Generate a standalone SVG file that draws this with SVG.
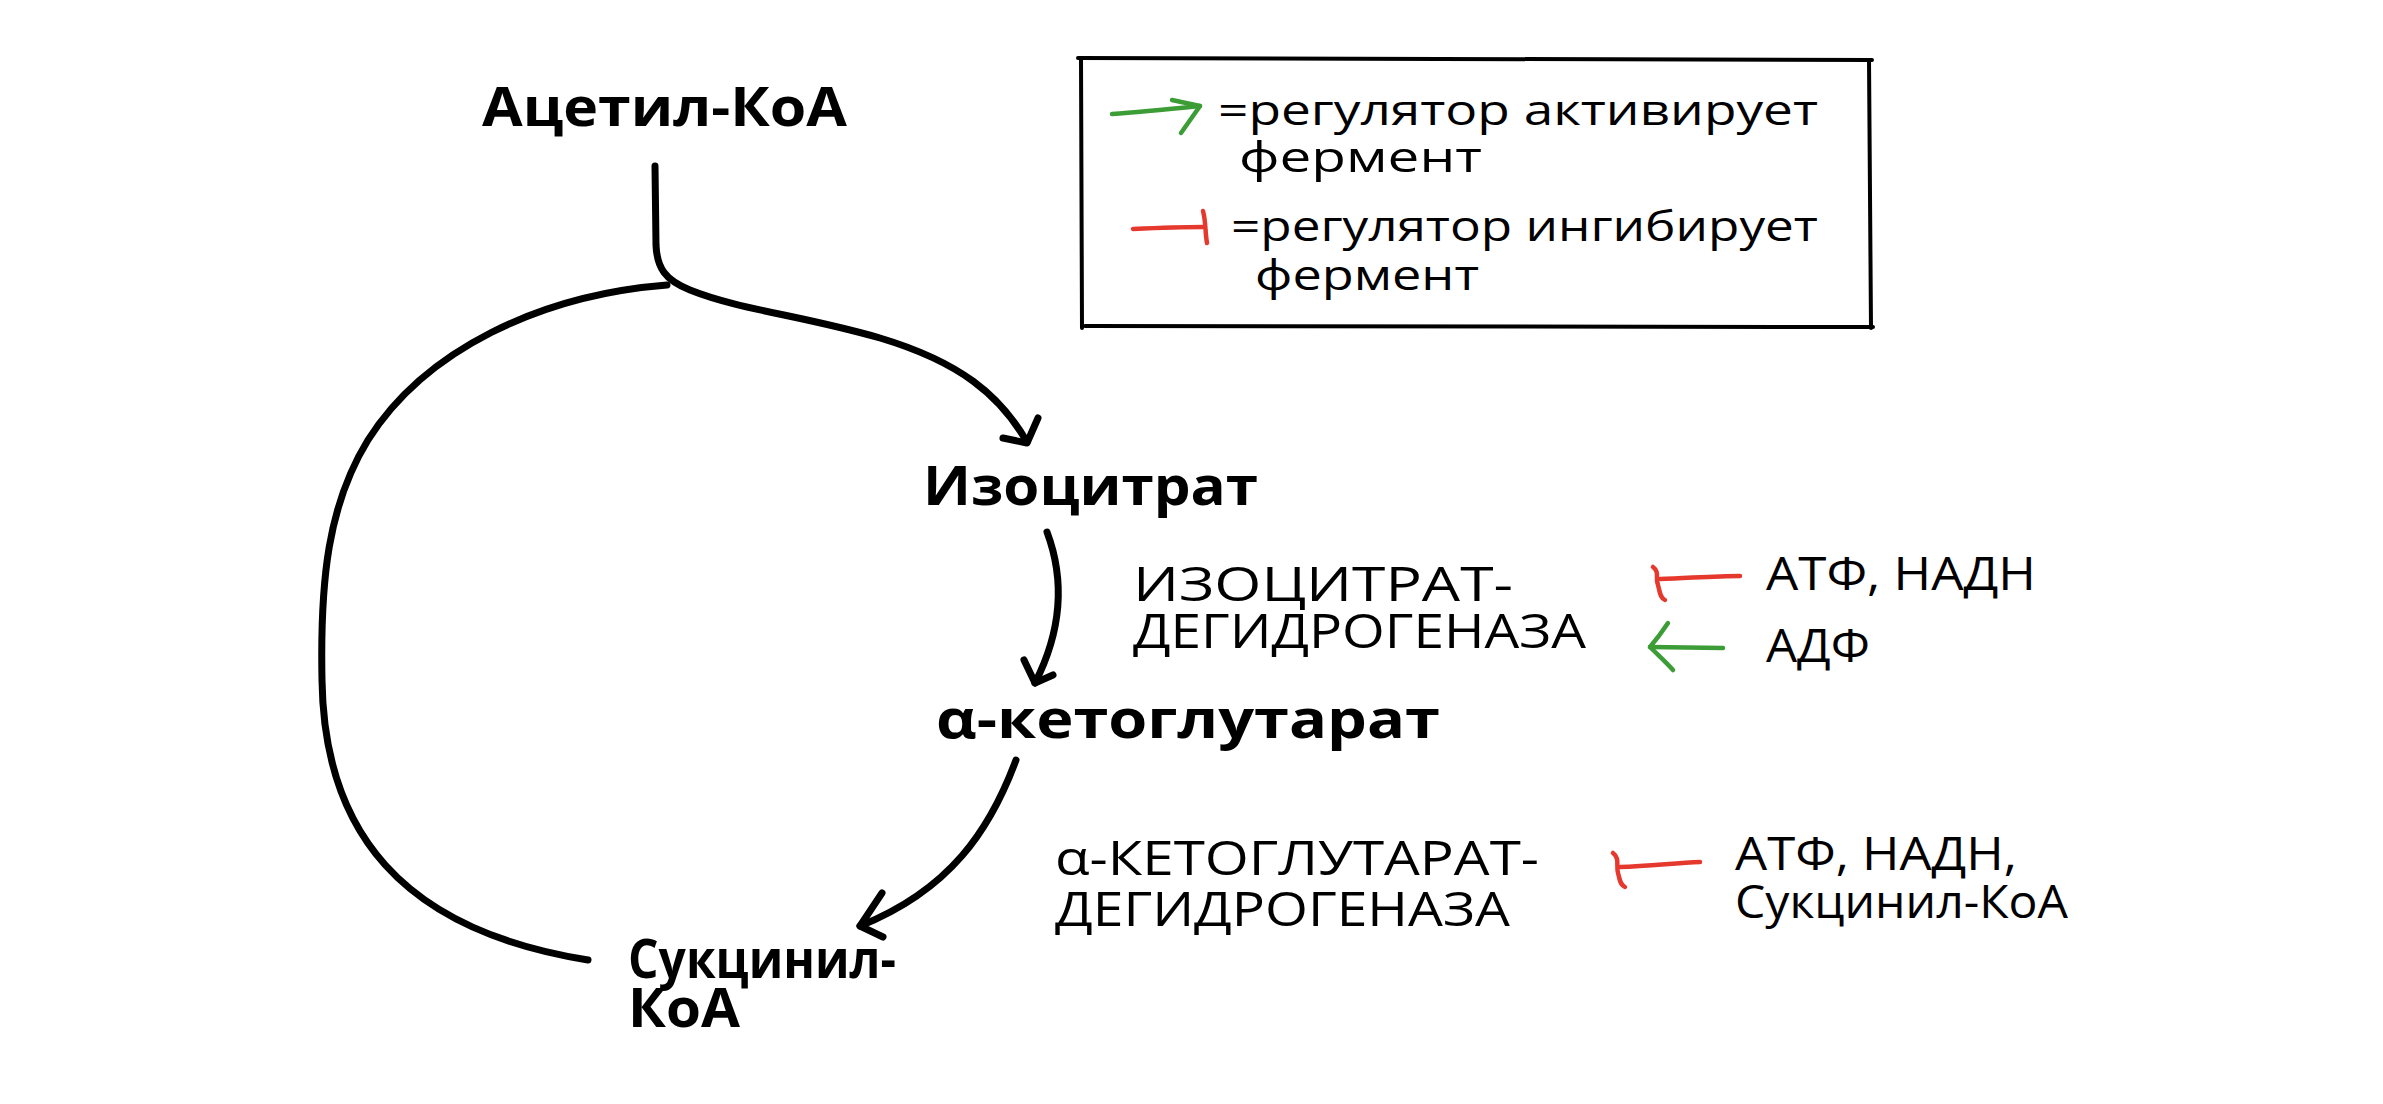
<svg xmlns="http://www.w3.org/2000/svg" width="2383" height="1104" viewBox="0 0 2383 1104">
<style>
  .main { font-family: "Open Sans", "Noto Sans", "DejaVu Sans", sans-serif; font-weight: 700; font-size: 54px; fill: #000; }
  .enz { font-family: "Open Sans", "Noto Sans", "DejaVu Sans", sans-serif; font-weight: 500; font-size: 48px; fill: #000; }
  .reg { font-family: "Open Sans", "Noto Sans", "DejaVu Sans", sans-serif; font-weight: 500; font-size: 45px; fill: #000; }
  .leg { font-family: "Open Sans", "Noto Sans", "DejaVu Sans", sans-serif; font-weight: 500; font-size: 42px; fill: #000; }
  .blk { fill: none; stroke: #000; stroke-width: 7; stroke-linecap: round; stroke-linejoin: round; }
  .red { fill: none; stroke: #e5392d; stroke-width: 4.5; stroke-linecap: round; stroke-linejoin: round; }
  .grn { fill: none; stroke: #3c9d36; stroke-width: 4.5; stroke-linecap: round; stroke-linejoin: round; }
  .box { fill: none; stroke: #000; stroke-width: 4; stroke-linecap: round; }
</style>
<rect width="2383" height="1104" fill="#fff"/>

<g id="connectors">
  <!-- Acetyl-CoA stem and branch to Isocitrate -->
  <path class="blk" d="M655,166 L656,245 C657,268 665,280 690,290 C740,310 800,315 880,338 C960,362 1000,395 1027,442"/>
  <path class="blk" d="M1038,418 L1027,443 L1003,438"/>
  <!-- cycle arc from Succinyl-CoA back up -->
  <path class="blk" d="M667,285 C540,295 425,350 368,440 C328,505 320,580 322,680 C324,830 400,930 588,960"/>
  <!-- Isocitrate -> alpha-KG -->
  <path class="blk" d="M1047,532 C1065,580 1062,630 1035,683"/>
  <path class="blk" d="M1024,660 L1035,683 L1053,675"/>
  <!-- alpha-KG -> Succinyl-CoA -->
  <path class="blk" d="M1016,760 C990,830 950,890 860,926"/>
  <path class="blk" d="M882,893 L860,926 L883,937"/>
  <!-- regulators, isocitrate dehydrogenase -->
  <path class="red" d="M1740,576 C1715,576 1690,578 1660,579"/>
  <path class="red" d="M1653,567 C1660,572 1655,578 1658,585 C1660,592 1660,598 1665,600"/>
  <path class="grn" d="M1723,648 L1650,647"/>
  <path class="grn" d="M1668,623 C1662,632 1656,640 1650,647 C1658,655 1666,662 1673,670"/>
  <!-- regulator, alpha-KG dehydrogenase -->
  <path class="red" d="M1700,862 C1675,863 1650,866 1620,867"/>
  <path class="red" d="M1613,853 C1620,858 1616,866 1618,873 C1620,880 1620,885 1625,887"/>
</g>

<g id="legend">
  <path class="box" d="M1078,58 L1872,60"/>
  <path class="box" d="M1081,58 L1082,328"/>
  <path class="box" d="M1869,60 L1871,328"/>
  <path class="box" d="M1085,326 L1873,327"/>
  <path class="grn" d="M1112,114 C1140,112 1170,109 1200,106"/>
  <path class="grn" d="M1172,100 L1200,106 L1181,133"/>
  <text class="leg" x="1218" y="125" textLength="600" lengthAdjust="spacingAndGlyphs">=регулятор активирует</text>
  <text class="leg" x="1239" y="172" textLength="243" lengthAdjust="spacingAndGlyphs">фермент</text>
  <path class="red" d="M1133,229 C1155,228 1180,227 1203,227"/>
  <path class="red" d="M1203,211 C1206,222 1205,232 1207,243"/>
  <text class="leg" x="1231" y="241" textLength="587" lengthAdjust="spacingAndGlyphs">=регулятор ингибирует</text>
  <text class="leg" x="1255" y="290" textLength="224" lengthAdjust="spacingAndGlyphs">фермент</text>
</g>

<g id="acetyl-coa">
  <text class="main" x="482" y="126" textLength="365" lengthAdjust="spacingAndGlyphs">Ацетил-КоА</text>
</g>
<g id="isocitrate">
  <text class="main" x="923" y="505" textLength="335" lengthAdjust="spacingAndGlyphs">Изоцитрат</text>
</g>
<g id="alpha-ketoglutarate">
  <text class="main" x="936" y="738" textLength="504" lengthAdjust="spacingAndGlyphs">α-кетоглутарат</text>
</g>
<g id="succinyl-coa">
  <text class="main" x="628" y="978" textLength="268" lengthAdjust="spacingAndGlyphs">Сукцинил-</text>
  <text class="main" x="628" y="1027" textLength="112" lengthAdjust="spacingAndGlyphs">КоА</text>
</g>
<g id="isocitrate-dehydrogenase">
  <text class="enz" x="1133" y="601" textLength="380" lengthAdjust="spacingAndGlyphs">ИЗОЦИТРАТ-</text>
  <text class="enz" x="1133" y="648" textLength="453" lengthAdjust="spacingAndGlyphs">ДЕГИДРОГЕНАЗА</text>
</g>
<g id="akg-dehydrogenase">
  <text class="enz" x="1055" y="875" textLength="484" lengthAdjust="spacingAndGlyphs">α-КЕТОГЛУТАРАТ-</text>
  <text class="enz" x="1055" y="926" textLength="455" lengthAdjust="spacingAndGlyphs">ДЕГИДРОГЕНАЗА</text>
</g>
<g id="reg-atp-nadh-1">
  <text class="reg" x="1766" y="590" textLength="270" lengthAdjust="spacingAndGlyphs">АТФ, НАДН</text>
</g>
<g id="reg-adp">
  <text class="reg" x="1766" y="662" textLength="104" lengthAdjust="spacingAndGlyphs">АДФ</text>
</g>
<g id="reg-atp-nadh-succ">
  <text class="reg" x="1735" y="870" textLength="282" lengthAdjust="spacingAndGlyphs">АТФ, НАДН,</text>
  <text class="reg" x="1735" y="918" textLength="333" lengthAdjust="spacingAndGlyphs">Сукцинил-КоА</text>
</g>
</svg>
